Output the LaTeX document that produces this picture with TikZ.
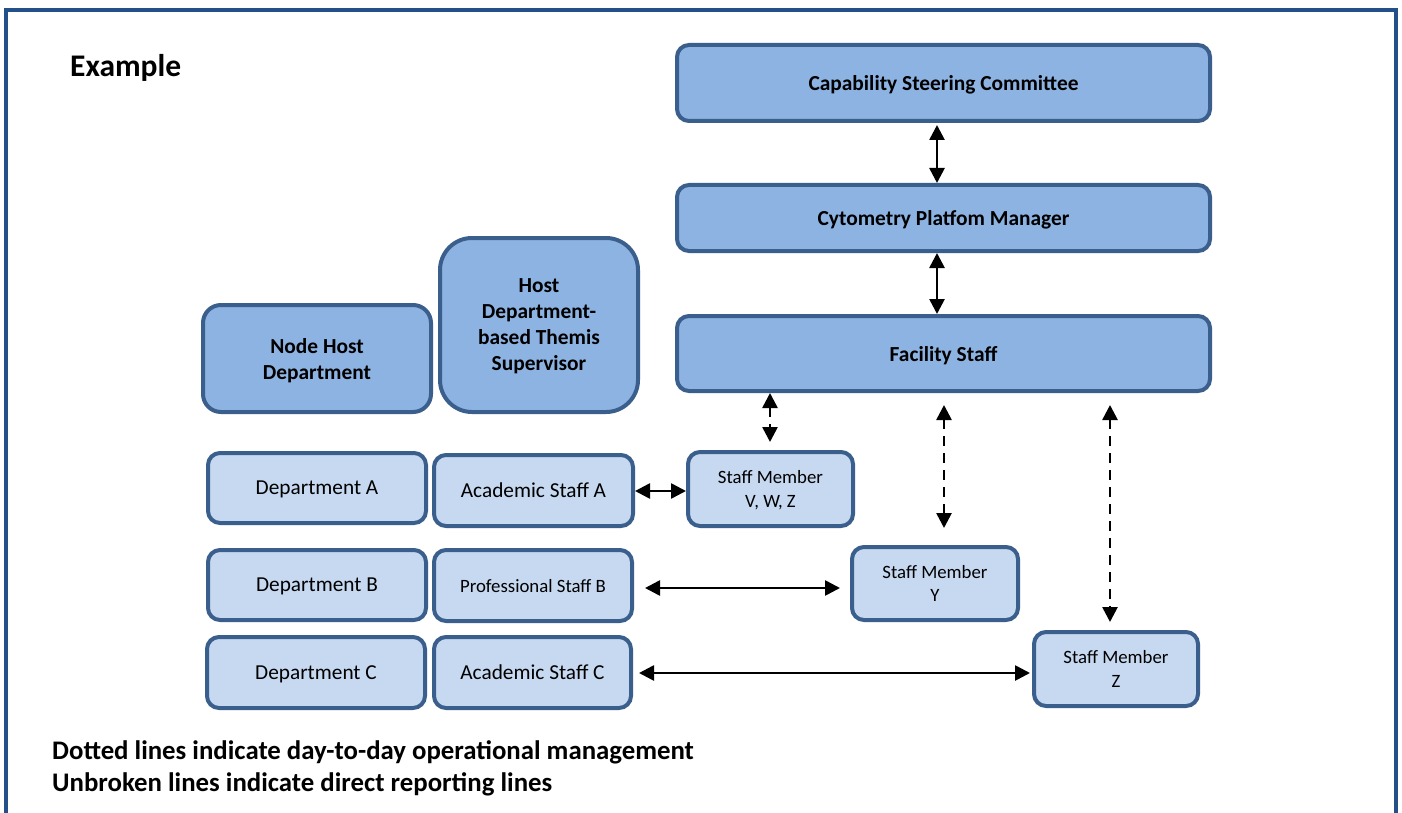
\documentclass[tikz,border=0pt]{standalone}
\usepackage{fontspec}
\setmainfont{Carlito}
\usetikzlibrary{arrows.meta}
\definecolor{darkfill}{HTML}{8DB3E2}
\definecolor{lightfill}{HTML}{C6D9F1}
\definecolor{boxline}{HTML}{3B5F8D}
\definecolor{framecol}{HTML}{24508A}
\begin{document}
\begin{tikzpicture}[x=1pt,y=-1pt,
  box/.style={draw=boxline, line width=4pt, rounded corners=12pt, align=center, inner sep=0pt, text=black, text depth=0pt},
  dark/.style={box, fill=darkfill, font=\fontsize{21.4}{26}\selectfont\bfseries},
  light/.style={box, fill=lightfill, font=\fontsize{21.3}{26}\selectfont},
  small/.style={box, fill=lightfill, font=\fontsize{18.8}{23.5}\selectfont},
  arr/.style={line width=2.6pt, {Triangle[length=15pt,width=15pt]}-{Triangle[length=15pt,width=15pt]}},
  darr/.style={arr, dash pattern=on 10pt off 7pt},
  title/.style={anchor=base west, inner sep=0pt, font=\fontsize{31.5}{36}\selectfont\bfseries},
  legend/.style={anchor=base west, inner sep=0pt, font=\fontsize{26.8}{30}\selectfont\bfseries},
]
\fill[white] (0,0) rectangle (1402,813);
\useasboundingbox (0,0) rectangle (1402,813);
\draw[framecol, line width=4.5pt] (6,813) -- (6,10) -- (1396,10) -- (1396,813);

\node[title] (ex) at (70,77) {Example};

% top column
\node[dark, minimum width=533pt, minimum height=76pt] (csc) at (943.5,83) {Capability Steering Committee};
\node[dark, minimum width=533pt, minimum height=66pt] (cpm) at (943.5,218) {Cytometry Platfom Manager};
\node[dark, minimum width=533pt, minimum height=75pt] (fs) at (943.5,353.5) {Facility Staff};

% header boxes
\node[dark, rounded corners=18pt, minimum width=228pt, minimum height=107pt] (nhd) at (317,358.5) {Node Host\\Department};
\node[dark, rounded corners=32pt, minimum width=198pt, minimum height=174pt] (hdts) at (539,325) {Host\\Department-\\based Themis\\Supervisor};

% rows
\node[light, minimum width=218pt, minimum height=70pt] (da) at (317,488) {Department A};
\node[light, minimum width=199pt, minimum height=71pt] (asa) at (533.5,490.5) {Academic Staff A};
\node[small, minimum width=165pt, minimum height=74pt] (smv) at (770.5,489) {Staff Member\\V, W, Z};

\node[light, minimum width=218pt, minimum height=70pt] (db) at (317,585) {Department B};
\node[small, minimum width=198pt, minimum height=71pt] (psb) at (533,585.5) {Professional Staff B};
\node[small, minimum width=166pt, minimum height=73pt] (smy) at (935,583.5) {Staff Member\\Y};

\node[light, minimum width=218pt, minimum height=71pt] (dc) at (316,672.5) {Department C};
\node[light, minimum width=197pt, minimum height=71pt] (asc) at (532.5,672.5) {Academic Staff C};
\node[small, minimum width=164pt, minimum height=74pt] (smz) at (1116,669) {Staff Member\\Z};

% connector x positions
\coordinate (x1) at (937,0);
\coordinate (x3) at (770,0);
\coordinate (x4) at (944,0);
\coordinate (x5) at (1110,0);
\coordinate (y1) at (0,491);
\coordinate (y2) at (0,588);
\coordinate (y3) at (0,673);

\draw[arr, shorten <=2pt] (csc.south -| x1) -- (cpm.north -| x1);
\draw[arr] (cpm.south -| x1) -- (fs.north -| x1);
\draw[darr, shorten >=8pt] (fs.south -| x3) -- (smv.north -| x3);
\draw[darr, shorten <=12pt, shorten >=17pt] (fs.south -| x4) -- (smy.north -| x4);
\draw[darr, shorten <=12pt, shorten >=8pt] (fs.south -| x5) -- (smz.north -| x5);

\draw[arr] (asa.east |- y1) -- (smv.west |- y1);
\draw[arr, shorten <=11pt, shorten >=10pt] (psb.east |- y2) -- (smy.west |- y2);
\draw[arr, shorten <=6pt, shorten >=2pt] (asc.east |- y3) -- (smz.west |- y3);

\node[legend] (l1) at (52,759) {Dotted lines indicate day-to-day operational management};
\node[legend] (l2) at (52,791) {Unbroken lines indicate direct reporting lines};
\end{tikzpicture}
\end{document}
